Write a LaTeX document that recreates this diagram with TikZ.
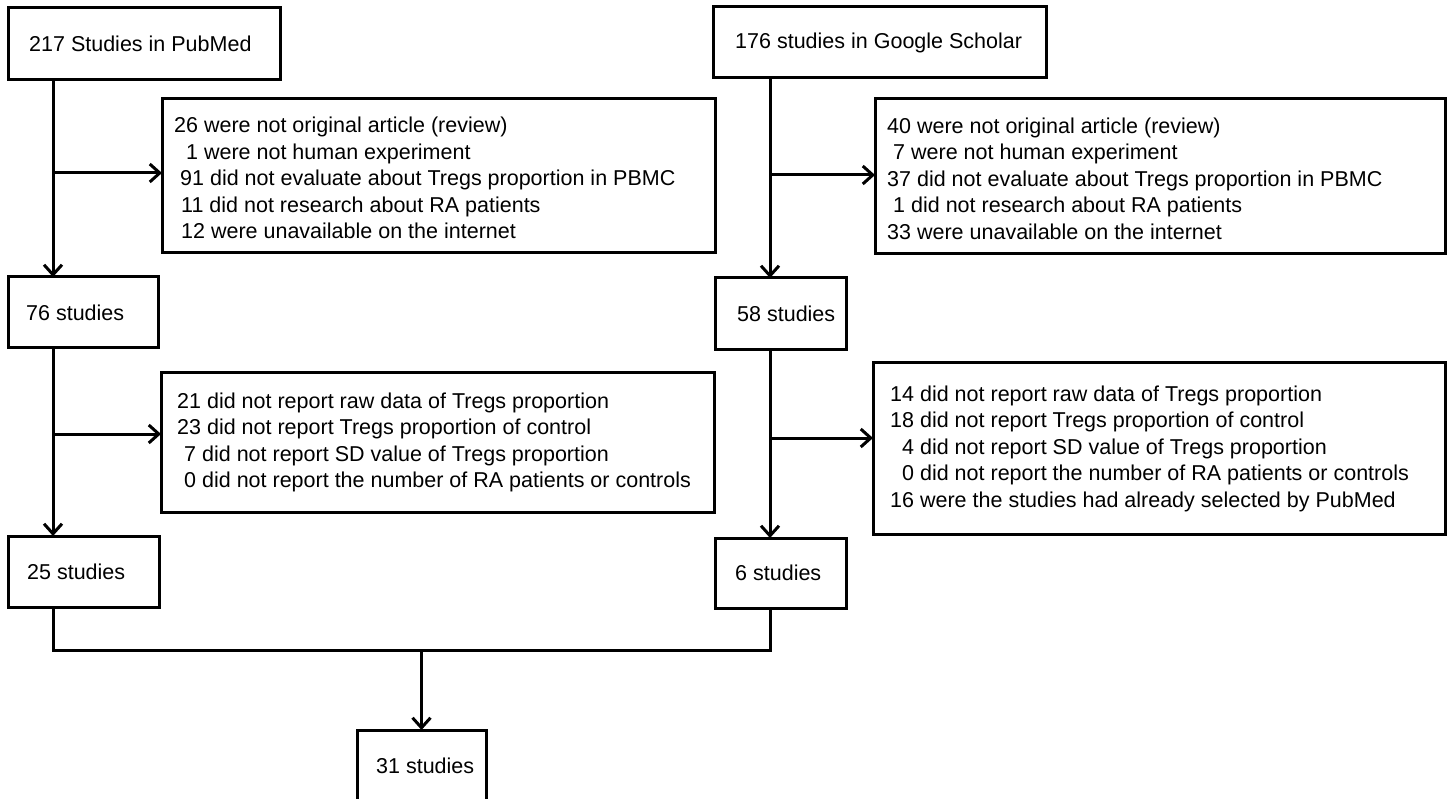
\documentclass[tikz,border=0pt]{standalone}
\usepackage{fontspec}
\setmainfont{Liberation Sans}
\usetikzlibrary{arrows.meta}
\begin{document}
\begin{tikzpicture}[x=1pt,y=-1pt,
  box/.style={draw, line width=3pt, anchor=north west, inner sep=0pt, outer sep=0pt},
  txt/.style={anchor=west, align=left, inner sep=0pt, font=\fontsize{21.5}{26.5}\selectfont},
  conn/.style={line width=3pt},
  arr/.style={conn, -{Straight Barb[length=10pt,width=18pt]}}
]
\clip (0,0) rectangle (1448,799);
\fill[white] (0,0) rectangle (1448,799);
% boxes
\node[box, minimum width=272pt, minimum height=72pt] (b217) at (8,8) {};
\node[box, minimum width=333pt, minimum height=71pt] (b176) at (713,7) {};
\node[box, minimum width=553pt, minimum height=154pt] (e1l) at (162,99) {};
\node[box, minimum width=570pt, minimum height=155pt] (e1r) at (875,99) {};
\node[box, minimum width=150pt, minimum height=71pt] (b76) at (8,277) {};
\node[box, minimum width=131pt, minimum height=72pt] (b58) at (715,278) {};
\node[box, minimum width=553pt, minimum height=139pt] (e2l) at (161,373) {};
\node[box, minimum width=572pt, minimum height=171pt] (e2r) at (873,363) {};
\node[box, minimum width=151pt, minimum height=71pt] (b25) at (8,536) {};
\node[box, minimum width=131pt, minimum height=70pt] (b6) at (715,538) {};
\node[box, minimum width=129pt, minimum height=71pt] (b31) at (357,730) {};
% texts
\node[txt] (t217) at ([xshift=21pt]b217.west) {217 Studies in PubMed};
\node[txt] (t176) at ([xshift=22pt]b176.west) {176 studies in Google Scholar};
\node[txt] (te1l) at ([xshift=12pt,yshift=-2pt]e1l.west) {26 were not original article (review)\\
\hphantom{0}1 were not human experiment\\
\hspace{6pt}91 did not evaluate about Tregs proportion in PBMC\\
\hspace{7pt}11 did not research about RA patients\\
\hspace{7pt}12 were unavailable on the internet};
\node[txt] (te1r) at ([xshift=12pt,yshift=-2pt]e1r.west) {40 were not original article (review)\\
\hspace{6pt}7 were not human experiment\\
37 did not evaluate about Tregs proportion in PBMC\\
\hspace{6pt}1 did not research about RA patients\\
33 were unavailable on the internet};
\node[txt] (t76) at ([xshift=18pt]b76.west) {76 studies};
\node[txt] (t58) at ([xshift=22pt]b58.west) {58 studies};
\node[txt] (te2l) at ([xshift=16pt]e2l.west) {21 did not report raw data of Tregs proportion\\
23 did not report Tregs proportion of control\\
\hspace{7pt}7 did not report SD value of Tregs proportion\\
\hspace{7pt}0 did not report the number of RA patients or controls};
\node[txt] (te2r) at ([xshift=17pt]e2r.west) {14 did not report raw data of Tregs proportion\\
18 did not report Tregs proportion of control\\
\hphantom{0}4 did not report SD value of Tregs proportion\\
\hphantom{0}0 did not report the number of RA patients or controls\\
16 were the studies had already selected by PubMed};
\node[txt] (t25) at ([xshift=19pt]b25.west) {25 studies};
\node[txt] (t6) at ([xshift=20pt]b6.west) {6 studies};
\node[txt] (t31) at ([xshift=19pt]b31.west) {31 studies};
% helper coordinates
\coordinate (lx) at (53,0);
\coordinate (rx) at (770,0);
\coordinate (my) at (0,650);
\coordinate (a1) at ([yshift=3pt]e1l.west);
\coordinate (a2) at ([yshift=1.5pt]e1r.west);
\coordinate (a3) at ([yshift=8.5pt]e2l.west);
\coordinate (a4) at ([yshift=10.5pt]e2r.west);
% connectors
\draw[arr] (b217.south -| lx) -- (b76.north -| lx);
\draw[arr] (a1 -| lx) -- (a1);
\draw[arr] (b176.south -| rx) -- (b58.north -| rx);
\draw[arr] (a2 -| rx) -- (a2);
\draw[arr] (b76.south -| lx) -- (b25.north -| lx);
\draw[arr] (a3 -| lx) -- (a3);
\draw[arr] (b58.south -| rx) -- (b6.north -| rx);
\draw[arr] (a4 -| rx) -- (a4);
\draw[conn] (b25.south -| lx) -- (lx |- my) -- (rx |- my) -- (b6.south -| rx);
\draw[arr] (b31.north |- my) -- (b31.north);
\end{tikzpicture}
\end{document}
